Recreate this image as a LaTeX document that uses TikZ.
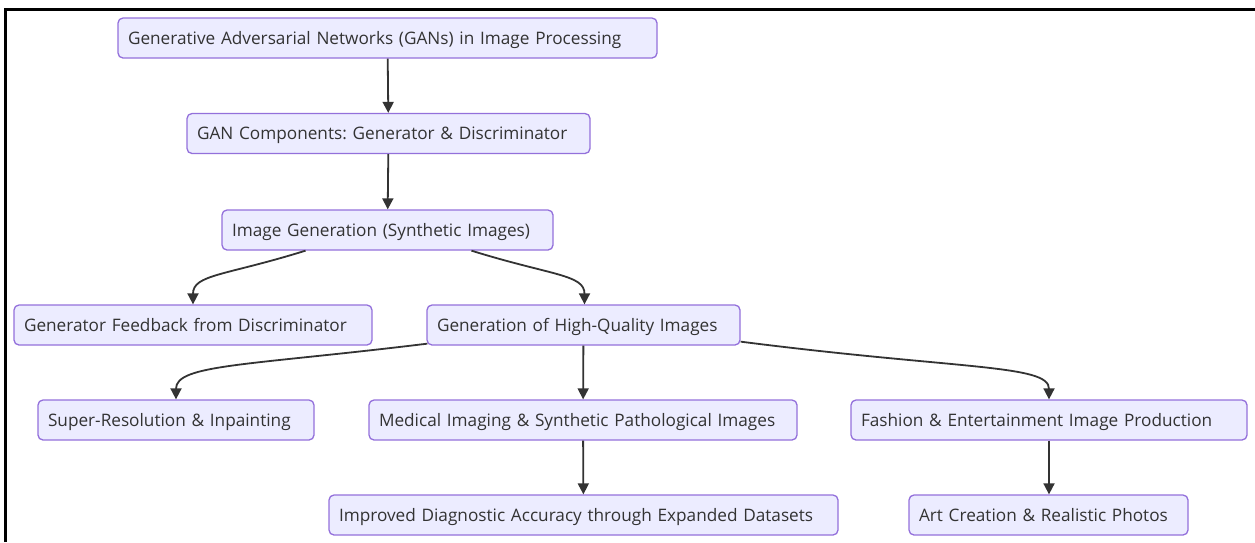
\documentclass[tikz,border=0pt]{standalone}
\usepackage{fontspec}
\setmainfont{Open Sans}
\usepackage{tikz}
\usepackage{xcolor}
\usetikzlibrary{arrows.meta,positioning}
\frenchspacing

\definecolor{boxfill}{HTML}{ECECFF}
\definecolor{boxline}{HTML}{9370DB}
\definecolor{linkgray}{HTML}{333333}

\begin{document}
\begin{tikzpicture}[
    x=1pt, y=1pt,
    every node/.style={font=\fontsize{17.2}{20}\selectfont, text=linkgray},
    stage/.style={draw=boxline, fill=boxfill, rounded corners=5pt, line width=1.3pt,
        minimum height=40pt, inner xsep=10pt, inner ysep=0pt, align=left,
        text height=13pt, text depth=0.5pt},
    link/.style={draw=linkgray, line width=1.8pt, -{Triangle[length=11pt,width=11pt]}}
]
\useasboundingbox (0,0) rectangle (1255,-542);
\draw[line width=3pt] (5,-542) -- (5,-9) -- (1255,-9);

\node[stage, text width=519pt] (gans) at (387.5,-38) {Generative Adversarial Networks (GANs) in Image Processing};
\node[stage, text width=383pt] (components) at (388.5,-133.5) {GAN Components: Generator \& Discriminator};
\node[stage, text width=311pt] (generation) at (387.5,-230) {Image Generation (Synthetic Images)};

\node[stage, text width=338pt] (feedback) at (193,-325) {Generator Feedback from Discriminator};
\node[stage, text width=293pt] (highquality) at (583.5,-325) {Generation of High-Quality Images};

\node[stage, text width=256pt] (superres) at (176,-420) {Super-Resolution \& Inpainting};
\node[stage, text width=408pt] (medical) at (583,-420) {Medical Imaging \& Synthetic Pathological Images};
\node[stage, text width=376pt] (fashion) at (1049,-420) {Fashion \& Entertainment Image Production};

\node[stage, text width=489pt] (diagnostic) at (583.5,-515) {Improved Diagnostic Accuracy through Expanded Datasets};
\node[stage, text width=259pt] (art) at (1048.5,-515) {Art Creation \& Realistic Photos};

\draw[link] (gans) -- (components);
\draw[link] (components) -- (generation);
\draw[link] ([xshift=-82pt]generation.south) .. controls +(-80,-25) and +(0,30) .. (feedback.north);
\draw[link] ([xshift=84pt]generation.south) .. controls +(80,-25) and +(0,30) .. ([xshift=1pt]highquality.north);
\draw[link] ([shift={(1pt,2pt)}]highquality.south west) .. controls +(-180,-22) and +(0,35) .. (superres.north);
\draw[link] (highquality) -- (medical);
\draw[link] ([yshift=4pt]highquality.south east) .. controls +(220,-28) and +(0,35) .. (fashion.north);
\draw[link] (medical) -- (diagnostic);
\draw[link] (fashion.south) -- (fashion.south |- art.north);

\end{tikzpicture}
\end{document}
